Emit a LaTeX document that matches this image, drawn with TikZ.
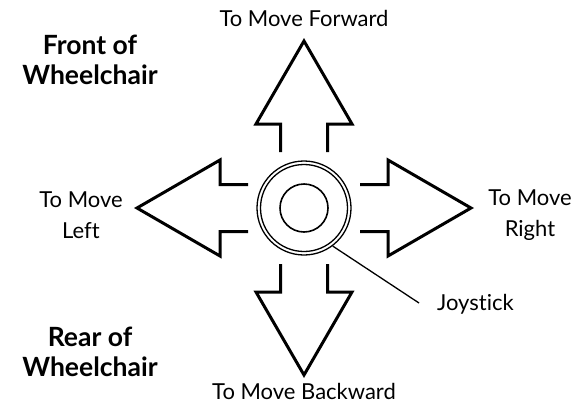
\documentclass[tikz,border=0pt]{standalone}
\usepackage{fontspec}
\setmainfont{Lato}[Ligatures={NoCommon,NoRare,NoDiscretionary}]
\begin{document}
\begin{tikzpicture}[x=1pt,y=-1pt,
  arrowline/.style={line width=3pt,line join=miter,line cap=butt},
  lbl/.style={font=\fontsize{22}{31}\selectfont,align=center,inner sep=0pt},
  bold/.style={font=\fontsize{26.5}{30}\selectfont\bfseries,align=center,inner sep=0pt}]
\useasboundingbox (0,0) rectangle (583,407);
\coordinate (c) at (304,208);
% arrows
\foreach \r in {0,90,180,270}{
  \begin{scope}[shift={(c)},rotate=\r]
    \draw[arrowline] (-23.5,-56) -- (-23.5,-84) -- (-48,-84) -- (0,-167) -- (48,-84) -- (23.5,-84) -- (23.5,-56);
  \end{scope}
}
% joystick
\node[circle,draw,line width=1.3pt,minimum size=94pt,inner sep=0pt] (joy) at (c) {};
\node[circle,draw,line width=1.3pt,minimum size=87pt,inner sep=0pt] (joyin) at (c) {};
\node[circle,draw,line width=1.6pt,minimum size=48pt,inner sep=0pt] (knob) at (c) {};
% labels
\node[lbl] (fwd) at (304,18) {To Move Forward};
\node[lbl] (bwd) at (304,391) {To Move Backward};
\node[lbl] (left) at (81,215) {To Move\\Left};
\node[lbl] (right) at (530,215) {To Move\\Right};
\node[lbl,anchor=west] (jlabel) at (437,304) {Joystick};
\node[bold] (front) at (90,60) {Front of\\Wheelchair};
\node[bold] (rear) at (90,352) {Rear of\\Wheelchair};
\coordinate (jend) at (419,303);
\draw[line width=1.3pt] (joy.-53) -- (jend);
\end{tikzpicture}
\end{document}
